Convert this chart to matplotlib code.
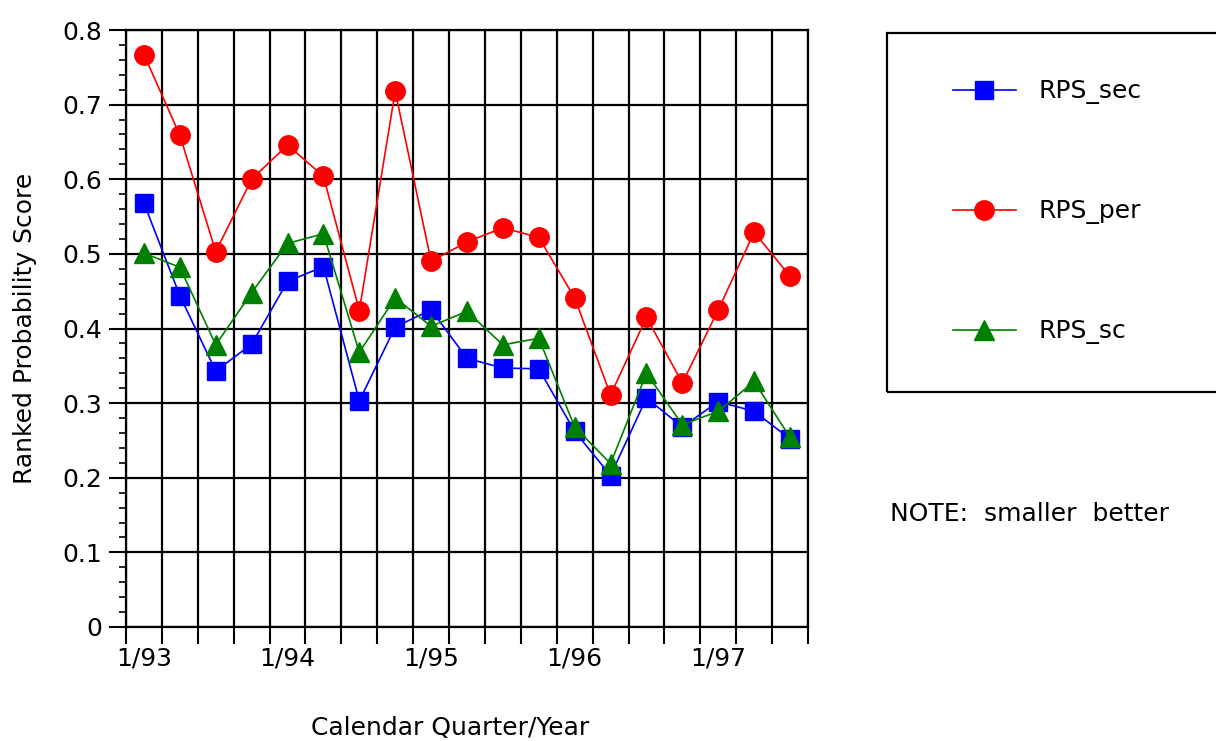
import numpy as np
import matplotlib
matplotlib.use('Agg')
import matplotlib.pyplot as plt
from matplotlib.patches import Rectangle

# quarters from 1/93 to 7/97
quarters = np.arange(19)
year_ticks = [0, 4, 8, 12, 16]
year_labels = ['1/93', '1/94', '1/95', '1/96', '1/97']

rps_sec = [0.568, 0.444, 0.343, 0.379, 0.463, 0.483, 0.303, 0.402, 0.425, 0.360,
           0.347, 0.346, 0.262, 0.203, 0.307, 0.268, 0.302, 0.289, 0.252]
rps_per = [0.767, 0.659, 0.503, 0.600, 0.646, 0.604, 0.424, 0.718, 0.490, 0.516,
           0.535, 0.522, 0.441, 0.311, 0.415, 0.327, 0.425, 0.529, 0.470]
rps_sc = [0.501, 0.482, 0.378, 0.448, 0.514, 0.527, 0.368, 0.441, 0.403, 0.423,
          0.378, 0.387, 0.268, 0.219, 0.340, 0.271, 0.289, 0.329, 0.254]

plt.rcParams['font.family'] = ['DejaVu Sans']
fs = 18

fig = plt.figure(figsize=(12.16, 7.41), dpi=100)
ax = fig.add_axes([126/1216, 1-627/741, (808-126)/1216, (627-30)/741])

ax.plot(quarters, rps_sec, color='#0000ff', lw=1.2, marker='s', ms=13,
        mec='#0000ff', label='RPS_sec', zorder=3)
ax.plot(quarters, rps_per, color='#ff0000', lw=1.2, marker='o', ms=14,
        mec='#ff0000', label='RPS_per', zorder=3)
ax.plot(quarters, rps_sc, color='#008000', lw=1.2, marker='^', ms=14,
        mec='#008000', label='RPS_sc', zorder=3)

ax.set_xlim(-0.5, 18.5)
ax.set_ylim(0, 0.8)

# year labels under the data points, tick marks at quarter boundaries
ax.set_xticks(year_ticks)
ax.set_xticklabels(year_labels, fontsize=fs)
ax.set_xticks(np.arange(-0.5, 19, 1), minor=True)
ax.tick_params(axis='x', which='major', length=0, pad=14)
ax.tick_params(axis='x', which='minor', length=12, width=1.5, direction='out')

ax.set_yticks(np.arange(0, 0.81, 0.1))
ax.set_yticklabels(['0'] + ['%.1f' % v for v in np.arange(0.1, 0.81, 0.1)], fontsize=fs)
ax.set_yticks(np.arange(0, 0.8, 0.02), minor=True)
ax.tick_params(axis='y', which='major', length=12, width=1.5, pad=5)
ax.tick_params(axis='y', which='minor', length=5, width=1.2)

ax.grid(which='minor', axis='x', color='black', lw=1.6)
ax.grid(which='major', axis='y', color='black', lw=1.6)
ax.set_axisbelow(True)
for s in ax.spines.values():
    s.set_linewidth(1.6)

ax.set_xlabel('Calendar Quarter/Year', fontsize=fs)
ax.xaxis.set_label_coords(0.475, -0.149)
ax.set_ylabel('Ranked Probability Score', fontsize=fs)
ax.yaxis.set_label_coords(-0.13, 0.5)

# legend box, runs off the right edge like the original
fig.patches.append(Rectangle((887/1216, 1-392/741), 0.4, (392-33)/741,
                             transform=fig.transFigure, fill=False,
                             edgecolor='black', lw=1.6))
fig.legend(loc='center left', bbox_to_anchor=(953/1216, 1-212/741),
           frameon=False, fontsize=fs, borderpad=0, borderaxespad=0,
           handlelength=2.5, handletextpad=0.92, labelspacing=3.8)

fig.text(890/1216, 1-514/741, 'NOTE:  smaller  better', fontsize=fs,
         ha='left', va='center')

fig.savefig('out.png', dpi=100)
